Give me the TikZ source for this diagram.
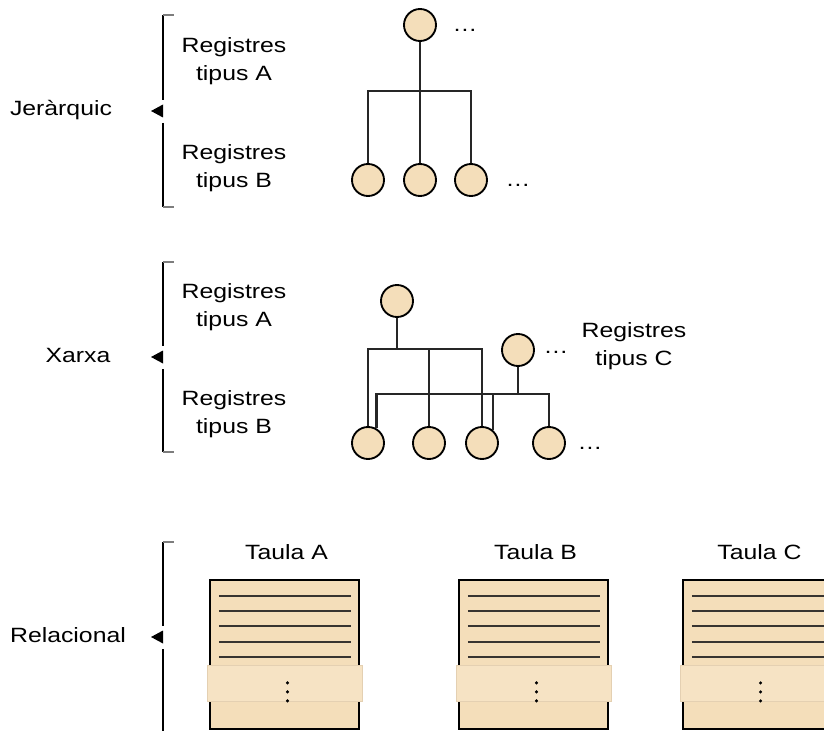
\documentclass[tikz,border=0pt]{standalone}
\usepackage{fontspec}
\setmainfont[FakeStretch=1.2]{Liberation Sans}
\usepackage{tikz}
\usetikzlibrary{calc}
\definecolor{dbbeige}{RGB}{244,222,186}
\definecolor{dbband}{RGB}{246,227,196}
\definecolor{dbbandline}{RGB}{228,208,178}
\definecolor{dbgray}{RGB}{125,125,125}
\definecolor{dbrule}{RGB}{55,52,48}

\begin{document}
\begin{tikzpicture}[x=0.75pt, y=-0.75pt,
    font=\fontsize{15.5}{21}\selectfont,
    rec/.style={circle, draw=black, line width=1.4pt, fill=dbbeige, minimum size=32*0.75pt, inner sep=0pt},
    link/.style={line width=1.6pt, draw=black!85},
    taula/.style={rectangle, draw=black, line width=1.6pt, fill=dbbeige, minimum width=149*0.75pt, minimum height=149*0.75pt, inner sep=0pt}]
    \clip (0,0) rectangle (824,731);

    % Brackets
    \foreach \ytop/\ybot/\ymid in {15/207/111, 262/452/357, 542/760/637} {
        \draw[line width=1.4pt] (163,\ytop) -- (163,\ymid-11);
        \draw[line width=1.4pt] (163,\ymid+12) -- (163,\ybot);
        \draw[line width=1.4pt, dbgray] (163,\ytop) -- (174,\ytop);
        \draw[line width=1.4pt, dbgray] (163,\ybot) -- (174,\ybot);
        \fill (151,\ymid) -- (163,\ymid-6.5) -- (163,\ymid+6.5) -- cycle;
    }
    \node (jer) at (61,110) {Jeràrquic};
    \node (xar) at (78,355) {Xarxa};
    \node (rel) at (68,635) {Relacional};

    % Hierarchical model
    \node[align=center] (hA) at (234,61) {Registres\\tipus A};
    \node[align=center] (hB) at (234,168) {Registres\\tipus B};
    \node[rec] (h0) at (420,25) {};
    \node[rec] (h1) at (368,180) {};
    \node[rec] (h2) at (420,180) {};
    \node[rec] (h3) at (471,180) {};
    \node (hdots0) at (465,30) {…};
    \node (hdots1) at (518,185) {…};
    \coordinate (hbar) at (420,91);
    \draw[link] (h0) -- (h2);
    \draw[link] (h1.north) |- (hbar) -| (h3.north);

    % Network model
    \node[align=center] (xA) at (234,307) {Registres\\tipus A};
    \node[align=center] (xB) at (234,414) {Registres\\tipus B};
    \node[align=center] (xC) at (634,346) {Registres\\tipus C};
    \node[rec] (nA) at (397,301) {};
    \node[rec] (nC) at (518,350) {};
    \node[rec] (n1) at (368,443) {};
    \node[rec] (n2) at (429,443) {};
    \node[rec] (n3) at (482,443) {};
    \node[rec] (n4) at (549,443) {};
    \node (ndots0) at (556,352) {…};
    \node (ndots1) at (590,448) {…};
    \coordinate (bar1) at (397,349);
    \coordinate (bar2) at (518,394);
    \draw[link] (nA) -- (bar1);
    \draw[link] (n1.north) |- (bar1) -| (n3.north);
    \draw[link] (n2.north) -- (n2 |- bar1);
    \draw[link] (nC) -- (bar2);
    \draw[link] (n1.60) |- (bar2) -| (n4.north);
    \draw[link] (n3.51) -- (n3.51 |- bar2);

    % Relational model
    \foreach \name/\cx in {A/284.5, B/533.5, C/757.5} {
        \node[taula] (t\name) at (\cx,654.5) {};
        \node (lab\name) at (\cx+2,552) {Taula \name};
        \foreach \dy in {17,32,47,63,78}
            \draw[line width=1.9pt, dbrule] ($(t\name.north west)+(10,\dy)$) -- ($(t\name.north east)+(-9,\dy)$);
        \filldraw[fill=dbband, draw=dbbandline, line width=0.5pt]
            ($(t\name.north west)+(-2,86)$) rectangle ($(t\name.north east)+(2,122)$);
        \foreach \dy in {104,113,122}
            \fill ($(t\name.north)+(3,\dy)$) circle (1.7);
    }
\end{tikzpicture}
\end{document}
